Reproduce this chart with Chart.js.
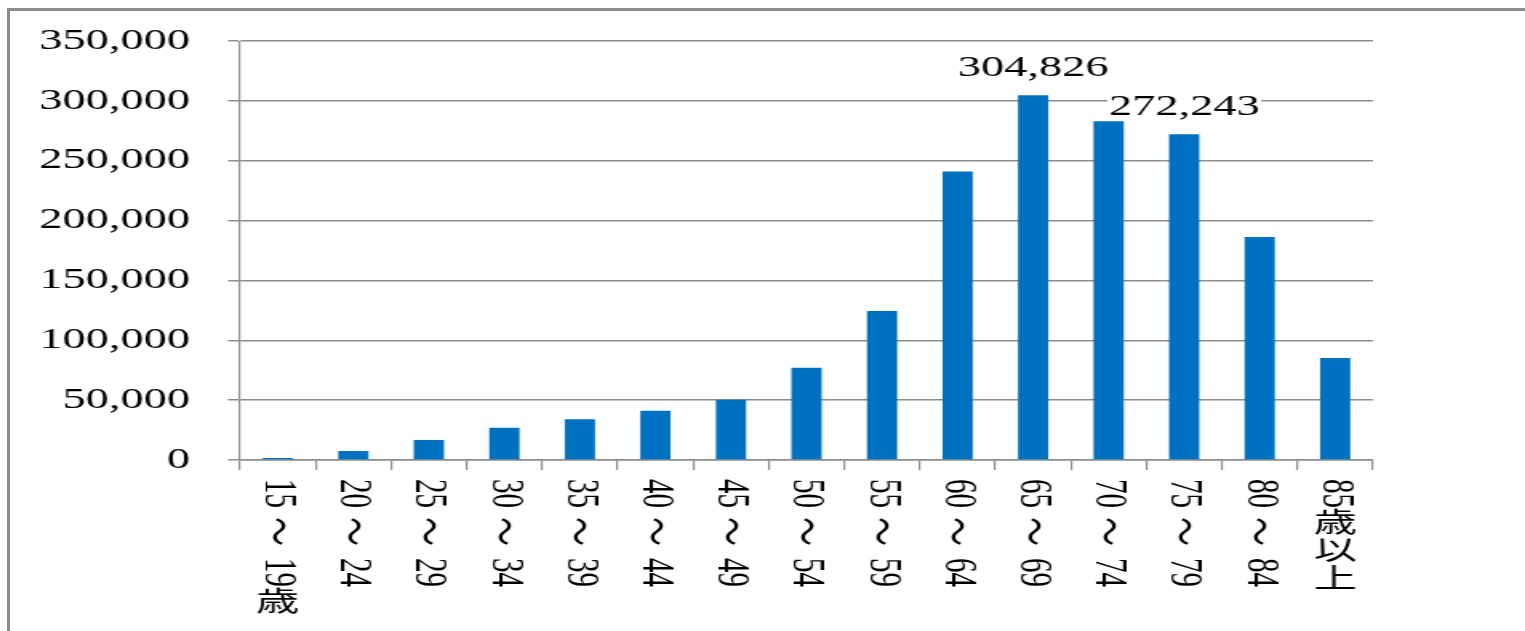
<!DOCTYPE html>
<html>
<head>
<meta charset="utf-8">
<script src="https://cdn.jsdelivr.net/npm/chart.js@4/dist/chart.umd.min.js"></script>
<style>
  html, body { margin: 0; padding: 0; background: #fff; }
  body { width: 1525px; height: 631px; overflow: hidden; position: relative; }
  #myChart { position: absolute; left: 0; top: 0; transform-origin: 0 0; transform: scaleX(1.6002); }
  #frame { position: absolute; left: 7px; top: 8px; width: 1518px; height: 623px;
           border-top: 3px solid #8c8c8c; border-left: 3px solid #8c8c8c; box-sizing: border-box; }
</style>
</head>
<body>
<canvas id="myChart" width="953" height="631"></canvas>
<div id="frame"></div>
<script>
// age groups and counts
const ageGroups = ['15～19歳', '20～24', '25～29', '30～34', '35～39', '40～44', '45～49', '50～54',
                   '55～59', '60～64', '65～69', '70～74', '75～79', '80～84', '85歳以上'];
const counts = [1700, 7500, 16700, 27000, 34000, 41200, 50300, 77100,
                124500, 241000, 304826, 283000, 272243, 186400, 85200];
// only these bars carry a value label in the original
const labeledBars = [10, 12];

const serifFont = '"Liberation Serif", "Times New Roman", serif';
const cjkFont = '"Noto Sans CJK JP", sans-serif';
const gridColor = '#8c8c8c';

// x labels are written vertically: digits and ～ turned sideways, kanji upright
const verticalLabels = {
    id: 'verticalLabels',
    afterDraw(chart) {
        const ctx = chart.ctx;
        const xScale = chart.scales.x;
        ctx.save();
        ctx.fillStyle = '#000';
        ageGroups.forEach((label, i) => {
            const px = xScale.getPixelForTick(i);
            let py = xScale.top + 19;
            const parts = label.match(/[0-9]+|～|[^0-9～]/g);
            parts.forEach(part => {
                if (/^[0-9]+$/.test(part) || part === '～') {
                    const isWave = part === '～';
                    ctx.font = '29px ' + (isWave ? cjkFont : serifFont);
                    if (isWave) py += 9;
                    ctx.save();
                    ctx.translate(px, py);
                    ctx.rotate(Math.PI / 2);
                    ctx.textAlign = 'left';
                    ctx.textBaseline = 'middle';
                    ctx.fillText(part, 0, 0);
                    ctx.restore();
                    py += ctx.measureText(part).width;
                    if (isWave) py += 12;
                } else {
                    ctx.font = '27px ' + cjkFont;
                    ctx.textAlign = 'center';
                    ctx.textBaseline = 'middle';
                    ctx.fillText(part, px, py + 14);
                    py += 28;
                }
            });
        });
        ctx.restore();
    }
};

const valueLabels = {
    id: 'valueLabels',
    afterDatasetsDraw(chart) {
        const ctx = chart.ctx;
        const meta = chart.getDatasetMeta(0);
        ctx.save();
        ctx.font = '29px ' + serifFont;
        ctx.textAlign = 'center';
        ctx.textBaseline = 'alphabetic';
        labeledBars.forEach(i => {
            const bar = meta.data[i];
            const text = counts[i].toLocaleString('en-US');
            const w = ctx.measureText(text).width;
            const baseY = bar.y - 19;
            ctx.fillStyle = '#fff';
            ctx.fillRect(bar.x - w / 2 - 1, baseY - 22, w + 2, 26);
            ctx.fillStyle = '#000';
            ctx.fillText(text, bar.x, baseY);
        });
        ctx.restore();
    }
};

const ctx = document.getElementById('myChart').getContext('2d');
new Chart(ctx, {
    type: 'bar',
    data: {
        labels: ageGroups,
        datasets: [{
            data: counts,
            backgroundColor: '#0070c0',
            borderWidth: 0,
            categoryPercentage: 1.0,
            barPercentage: 0.4
        }]
    },
    options: {
        responsive: false,
        devicePixelRatio: 1,
        animation: false,
        layout: { padding: { left: 0, right: 95, top: 41, bottom: 0 } },
        plugins: {
            legend: { display: false },
            tooltip: { enabled: false }
        },
        scales: {
            x: {
                grid: {
                    offset: true,
                    drawOnChartArea: false,
                    drawTicks: true,
                    tickLength: 10,
                    color: gridColor,
                    lineWidth: 1.2
                },
                border: { display: true, color: gridColor, width: 1.5 },
                ticks: { display: false, autoSkip: false },
                afterFit: scale => { scale.height = 171; }
            },
            y: {
                min: 0,
                max: 350000,
                grid: {
                    color: gridColor,
                    lineWidth: 1.5,
                    drawTicks: true,
                    tickLength: 7.5
                },
                border: { display: true, color: gridColor, width: 1.2 },
                ticks: {
                    stepSize: 50000,
                    padding: 23.75,
                    color: '#000',
                    font: { family: serifFont, size: 29 },
                    callback: value => value.toLocaleString('en-US')
                },
                afterFit: scale => { scale.width = 150; }
            }
        }
    },
    plugins: [valueLabels, verticalLabels]
});
</script>
</body>
</html>
